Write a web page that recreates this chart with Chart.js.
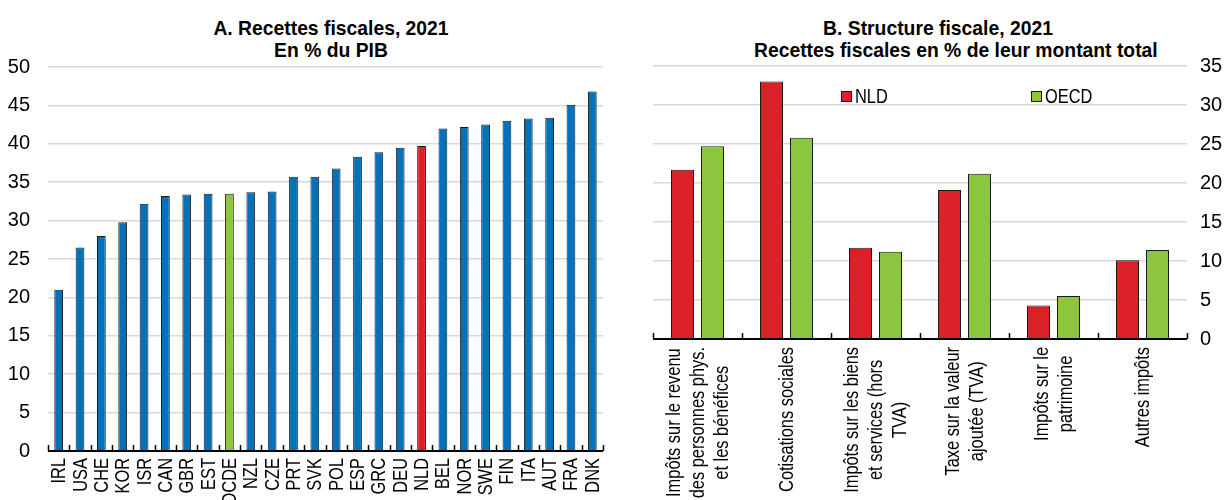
<!DOCTYPE html>
<html><head><meta charset="utf-8">
<script src="https://cdn.jsdelivr.net/npm/chart.js@4.4.1/dist/chart.umd.min.js"></script>
<style>
body{margin:0;background:#fff;width:1227px;height:500px;overflow:hidden;position:relative;font-family:"Liberation Sans Narrow","Arial Narrow","Liberation Sans",sans-serif;}
.title{position:absolute;font-weight:bold;font-size:21px;text-align:center;line-height:22px;color:#000;white-space:nowrap;transform:scaleX(0.92);transform-origin:50% 50%;}
#ca{position:absolute;left:0;top:0;}
#cb{position:absolute;left:625px;top:0;}
</style></head><body>
<div class="title" style="left:131px;width:400px;top:17px">A. Recettes fiscales, 2021<br>En % du PIB</div>
<div class="title" style="left:738px;width:400px;top:17px">B. Structure fiscale, 2021<br>Recettes fiscales en % de leur montant total</div>
<canvas id="ca" width="615" height="500"></canvas>
<canvas id="cb" width="602" height="500"></canvas>
<script>
// ---- Data ----
const countries = ['IRL','USA','CHE','KOR','ISR','CAN','GBR','EST','OCDE','NZL','CZE','PRT','SVK','POL','ESP','GRC','DEU','NLD','BEL','NOR','SWE','FIN','ITA','AUT','FRA','DNK'];
const taxRevenue = [21.0,26.5,28.0,29.8,32.2,33.2,33.4,33.5,33.5,33.7,33.8,35.7,35.7,36.8,38.3,38.9,39.5,39.7,42.0,42.2,42.5,43.0,43.3,43.4,45.1,46.8];
const yTicksA = [0,5,10,15,20,25,30,35,40,45,50];

const taxCategories = [
  ['Impôts sur le revenu','des personnes phys.','et les bénéfices'],
  ['Cotisations sociales'],
  ['Impôts sur les biens','et services (hors','TVA)'],
  ['Taxe sur la valeur','ajoutée (TVA)'],
  ['Impôts sur le','patrimoine'],
  ['Autres impôts']
];
const nldShare  = [21.7,33.0,11.7,19.1,4.3,10.1];
const oecdShare = [24.7,25.8,11.2,21.2,5.5,11.4];
const yTicksB = [0,5,10,15,20,25,30,35];

// ---- Styles ----
const FONT = '"Liberation Sans Narrow","Arial Narrow","Liberation Sans",sans-serif';
const NARROW = 0.82;
const BLUE = '#0072bc', RED = '#da2128', GREEN = '#8cc63f', EDGE = '#1a1a1a', GRID = '#d9d9d9';
Chart.defaults.font.family = FONT;
Chart.defaults.font.size = 20;
Chart.defaults.color = '#000';

function narrowText(ctx, text, x, y, rot, align) {
  ctx.save();
  ctx.translate(x, y);
  if (rot) ctx.rotate(rot);
  ctx.scale(NARROW, 1);
  ctx.textAlign = align;
  ctx.fillText(text, 0, 0);
  ctx.restore();
}

const boundaryTicks = {
  id: 'boundaryTicks',
  afterDatasetsDraw(chart) {
    const x = chart.scales.x, ctx = chart.ctx, n = chart.data.labels.length;
    ctx.save();
    ctx.strokeStyle = '#000'; ctx.lineWidth = 1.5;
    ctx.beginPath();
    for (let i = 0; i <= n; i++) {
      const px = Math.round(x.getPixelForValue(i - 0.5)) + 0.5;
      ctx.moveTo(px, x.top); ctx.lineTo(px, x.top - 6);
    }
    ctx.stroke();
    ctx.beginPath();
    ctx.lineWidth = 2;
    ctx.moveTo(x.left, x.top); ctx.lineTo(x.right, x.top);
    ctx.stroke();
    ctx.restore();
  }
};

const countryLabels = {
  id: 'countryLabels',
  afterDraw(chart) {
    const x = chart.scales.x, ctx = chart.ctx;
    ctx.save();
    ctx.font = '20px ' + FONT;
    ctx.fillStyle = '#000';
    ctx.textBaseline = 'middle';
    chart.data.labels.forEach((lab, i) => {
      narrowText(ctx, lab, x.getPixelForValue(i) + 1, x.top + 7, -Math.PI / 2, 'right');
    });
    ctx.restore();
  }
};

new Chart(document.getElementById('ca'), {
  type: 'bar',
  data: {
    labels: countries,
    datasets: [{
      data: taxRevenue,
      backgroundColor: countries.map(c => c === 'NLD' ? RED : (c === 'OCDE' ? GREEN : BLUE)),
      borderColor: EDGE, borderWidth: 1,
      barPercentage: 0.41, categoryPercentage: 1
    }]
  },
  options: {
    responsive: false, animation: false, devicePixelRatio: 1,
    layout: { padding: { top: 67, right: 12, left: 0, bottom: 0 } },
    plugins: { legend: { display: false }, tooltip: { enabled: false } },
    scales: {
      x: {
        grid: { display: false, drawTicks: false },
        border: { display: false },
        ticks: { display: false },
        afterFit(s) { s.height = 49; }
      },
      y: {
        min: 0, max: 50,
        afterBuildTicks(s) { s.ticks = yTicksA.map(v => ({ value: v })); },
        ticks: { padding: 18, font: { size: 20 } },
        grid: { color: GRID, lineWidth: 1.5, drawTicks: false },
        border: { display: false },
        afterFit(s) { s.width = 48; }
      }
    }
  },
  plugins: [boundaryTicks, countryLabels]
});

const catLabels = {
  id: 'catLabels',
  afterDraw(chart) {
    const x = chart.scales.x, ctx = chart.ctx;
    const lh = 24;
    ctx.save();
    ctx.font = '20px ' + FONT;
    ctx.fillStyle = '#000';
    ctx.textBaseline = 'middle';
    taxCategories.forEach((lines, i) => {
      const cx = x.getPixelForValue(i);
      const maxW = Math.max(...lines.map(l => ctx.measureText(l).width)) * NARROW;
      const cy = x.top + 8 + maxW / 2;
      lines.forEach((l, k) => {
        const lx = cx + (k - (lines.length - 1) / 2) * lh + 1;
        narrowText(ctx, l, lx, cy, -Math.PI / 2, 'center');
      });
    });
    // legend
    const items = [{ ds: 0, x: 841 - 625 }, { ds: 1, x: 1031 - 625 }];
    items.forEach(it => {
      const d = chart.data.datasets[it.ds];
      ctx.fillStyle = d.backgroundColor;
      ctx.fillRect(it.x, 91, 11, 11);
      ctx.strokeStyle = EDGE; ctx.lineWidth = 1;
      ctx.strokeRect(it.x + 0.5, 91.5, 10, 10);
      ctx.fillStyle = '#000';
      narrowText(ctx, d.label, it.x + 14, 97, 0, 'left');
    });
    ctx.restore();
  }
};

new Chart(document.getElementById('cb'), {
  type: 'bar',
  data: {
    labels: taxCategories.map(l => l.join(' ')),
    datasets: [
      { label: 'NLD', data: nldShare, backgroundColor: RED, borderColor: EDGE, borderWidth: 1, barPercentage: 0.767, categoryPercentage: 0.674 },
      { label: 'OECD', data: oecdShare, backgroundColor: GREEN, borderColor: EDGE, borderWidth: 1, barPercentage: 0.767, categoryPercentage: 0.674 }
    ]
  },
  options: {
    responsive: false, animation: false, devicePixelRatio: 1,
    layout: { padding: { top: 66, right: 0, left: 28, bottom: 0 } },
    plugins: { legend: { display: false }, tooltip: { enabled: false } },
    scales: {
      x: {
        grid: { display: false, drawTicks: false },
        border: { display: false },
        ticks: { display: false },
        afterFit(s) { s.height = 161; }
      },
      y: {
        position: 'right',
        min: 0, max: 35,
        afterBuildTicks(s) { s.ticks = yTicksB.map(v => ({ value: v })); },
        ticks: { padding: 13, font: { size: 20 } },
        grid: { color: GRID, lineWidth: 1.5, drawTicks: false },
        border: { display: false },
        afterFit(s) { s.width = 40; }
      }
    }
  },
  plugins: [boundaryTicks, catLabels]
});
</script>
</body></html>
